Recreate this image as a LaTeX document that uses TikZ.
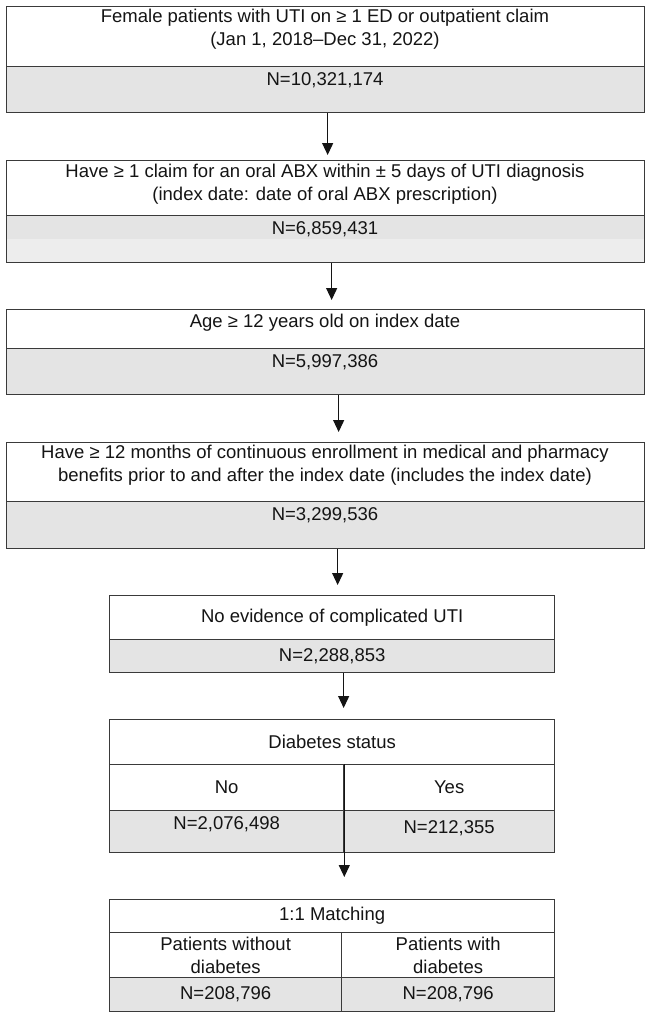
\documentclass[tikz,border=0pt]{standalone}
\usepackage{fontspec}
\setmainfont{Liberation Sans}
\usetikzlibrary{arrows.meta}
\definecolor{rule}{HTML}{3A3A3A}
\definecolor{ink}{HTML}{141414}
\definecolor{shade}{HTML}{E4E4E4}
\definecolor{shadelt}{HTML}{EDEDED}

\begin{document}
\begin{tikzpicture}[x=1pt, y=-1pt,
  cell/.style={draw=rule, line width=1.3pt, inner sep=0pt, anchor=north west,
               font=\fontsize{18.5}{23}\selectfont, text=ink, align=center},
  numcell/.style={cell, fill=shade},
  txt/.style={font=\fontsize{18.5}{23}\selectfont, text=ink, align=center,
              inner sep=0pt, anchor=north},
  flow/.style={-{Triangle[width=11pt, length=12pt]}, line width=1.2pt, draw=ink},
]

\useasboundingbox (0,0) rectangle (650,1017);

\node[cell, minimum width=638pt, minimum height=60pt] (crit1) at (6,6) {};
\node[numcell, minimum width=638pt, minimum height=46pt] (num1) at (6,66) {};
\node[txt] (crit1t) at (325,9) {Female patients with UTI on ≥ 1 ED or outpatient claim\\(Jan 1, 2018–Dec 31, 2022)};
\node[txt] (num1t) at (325,72) {N=10,321,174};

\node[cell, minimum width=638pt, minimum height=55pt] (crit2) at (6,160) {};
\node[numcell, minimum width=638pt, minimum height=47pt] (num2) at (6,215) {};
\node[fill=shadelt, inner sep=0pt, anchor=north west, minimum width=636.7pt,
      minimum height=22.3pt] (band2) at (6.65,239) {};
\node[txt] (crit2t) at (325,164) {Have ≥ 1 claim for an oral ABX within ± 5 days of UTI diagnosis\\(index date: date of oral ABX prescription)};
\node[txt] (num2t) at (325,221) {N=6,859,431};

\node[cell, minimum width=638pt, minimum height=39pt] (crit3) at (6,309) {};
\node[numcell, minimum width=638pt, minimum height=46pt] (num3) at (6,348) {};
\node[txt] (crit3t) at (325,314) {Age ≥ 12 years old on index date};
\node[txt] (num3t) at (325,354) {N=5,997,386};

\node[cell, minimum width=638pt, minimum height=59pt] (crit4) at (6,442) {};
\node[numcell, minimum width=638pt, minimum height=47pt] (num4) at (6,501) {};
\node[txt] (crit4t) at (325,445) {Have ≥ 12 months of continuous enrollment in medical and pharmacy\\benefits prior to and after the index date (includes the index date)};
\node[txt] (num4t) at (325,507) {N=3,299,536};

\node[cell, minimum width=445pt, minimum height=44pt] (crit5) at (109,595) {No evidence of complicated UTI};
\node[numcell, minimum width=445pt, minimum height=33pt] (num5) at (109,639) {N=2,288,853};

\node[cell, minimum width=445pt, minimum height=45pt] (crit6) at (109,719) {Diabetes status};
\node[cell, minimum width=234pt, minimum height=46pt] (grpno) at (109,764) {No};
\node[cell, minimum width=211pt, minimum height=46pt] (grpyes) at (343,764) {Yes};
\node[numcell, minimum width=234pt, minimum height=42pt, text depth=18pt] (numno) at (109,810) {N=2,076,498};
\node[numcell, minimum width=211pt, minimum height=42pt, text depth=10pt] (numyes) at (343,810) {N=212,355};

\node[cell, minimum width=445pt, minimum height=33pt] (crit7) at (109,899) {1:1 Matching};
\node[cell, minimum width=232pt, minimum height=45pt] (armno) at (109,932) {Patients without\\diabetes};
\node[cell, minimum width=213pt, minimum height=45pt] (armyes) at (341,932) {Patients with\\diabetes};
\node[numcell, minimum width=232pt, minimum height=34pt] (armnumno) at (109,977) {N=208,796};
\node[numcell, minimum width=213pt, minimum height=34pt] (armnumyes) at (341,977) {N=208,796};

\draw[flow] ([xshift=2pt]num1.south) -- ([xshift=2pt, yshift=5pt]crit2.north);
\draw[flow] ([xshift=6pt]num2.south) -- ([xshift=6pt, yshift=9pt]crit3.north);
\draw[flow] ([xshift=13pt]num3.south) -- ([xshift=13pt, yshift=10pt]crit4.north);
\draw[flow] ([xshift=12pt]num4.south) -- ([xshift=5.5pt, yshift=10pt]crit5.north);
\draw[flow] ([xshift=11.5pt]num5.south) -- ([xshift=11.5pt, yshift=11pt]crit6.north);
\draw[flow] (grpno.north east) -- ([yshift=22pt]crit7.north -| grpno.north east);

\end{tikzpicture}
\end{document}
